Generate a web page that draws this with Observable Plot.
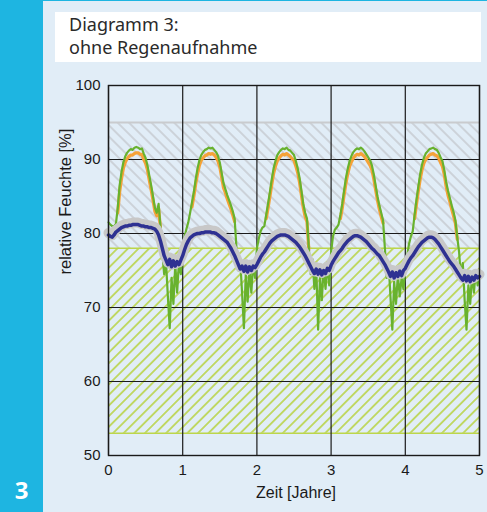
<!DOCTYPE html>
<html>
<head>
<meta charset="utf-8">
<script src="https://cdn.jsdelivr.net/npm/d3@7"></script>
<script src="https://cdn.jsdelivr.net/npm/@observablehq/plot@0.6"></script>
<style>
  body { margin: 0; }
  #wrap { position: relative; width: 487px; height: 512px; background: #e1edf7; overflow: hidden; }
  #strip { position: absolute; left: 0; top: 0; width: 43px; height: 512px; background: #1eb5e1; }
  #topline { position: absolute; left: 0; top: 0; width: 487px; height: 1px; background: #1eb5e1; }
  #num { position: absolute; left: 0; width: 43px; top: 478px; text-align: center; color: #fff;
         font: bold 24px/24px "Open Sans", "Noto Sans", sans-serif; }
  #title { position: absolute; left: 55px; top: 12px; width: 412px; height: 48px; background: #fff;
           padding: 1px 0 1px 14px; color: #2a2a2a; font: 18px/23px "Noto Sans", "Open Sans", sans-serif; }
  #chart { position: absolute; left: 42px; top: 64px; }
</style>
</head>
<body>
<div id="wrap">
  <div id="strip"></div>
  <div id="topline"></div>
  <div id="num">3</div>
  <div id="title">Diagramm 3:<br>ohne Regenaufnahme</div>
  <div id="chart"></div>
</div>
<script>
// ---- data ----
const xTicks = [0, 1, 2, 3, 4, 5];
const yTicks = [50, 60, 70, 80, 90, 100];
const xLabel = "Zeit [Jahre]";
const yLabel = "relative Feuchte [%]";
const greyBand = [78, 95];
const greenBand = [53, 78];
const step = 0.025; // years between samples

const green = [
  81.5,81.2,81.0,81.0,81.3,83.5,86.5,88.3,89.6,90.4,90.9,91.2,91.4,91.3,91.6,91.7,91.6,91.4,91.5,90.8,90.2,89.2,87.8,86.5,85.0,83.5,82.8,84.0,81.0,77.5,74.5,76.2,71.5,67.2,74.0,70.5,75.8,72.0,76.3,74.5,
  77.8,79.5,80.6,81.5,82.8,84.2,85.6,87.3,88.8,89.9,90.6,91.0,91.3,91.4,91.6,91.5,91.6,91.3,91.0,90.5,89.6,88.2,86.8,86.0,85.2,84.5,83.8,83.0,82.0,78.0,75.0,76.5,72.0,67.2,74.5,70.8,75.5,72.0,76.0,74.0,
  78.0,79.3,80.3,80.8,81.0,82.5,84.0,85.6,87.3,88.8,89.8,90.6,91.0,91.3,91.5,91.4,91.6,91.3,91.2,90.9,90.6,89.8,88.8,87.5,85.8,84.0,82.8,82.0,78.0,74.5,76.5,72.5,75.5,67.0,74.0,71.0,75.5,72.5,76.0,73.0,
  77.5,79.6,80.5,80.8,81.2,82.5,84.0,85.8,87.5,88.8,89.8,90.5,91.0,91.3,91.5,91.4,91.6,91.4,91.1,90.7,90.3,89.9,89.2,88.0,86.5,85.0,83.8,82.8,81.8,78.0,74.0,76.0,71.5,67.0,73.5,70.5,74.5,71.5,74.0,72.5,
  75.2,77.0,78.6,79.6,80.3,82.5,84.5,86.3,88.0,89.3,90.2,90.8,91.1,91.4,91.5,91.6,91.4,91.3,90.9,90.3,89.8,88.6,87.0,85.8,84.8,83.8,82.9,81.8,79.5,77.5,74.0,76.0,71.0,67.0,73.0,70.5,74.5,72.0,75.0,73.0,
  75.0
];

// orange series: summer sections only, starting 0.125 years into each year
const orangeStarts = [0.125, 1.125, 2.125, 3.125, 4.125];
const orange1 = [82.8,85.6,87.4,88.8,89.6,90.1,90.4,90.6,90.6,90.8,90.9,90.9,90.7,90.7,90.0,89.5,88.6,87.2,85.9,84.5,83.0,82.4,83.4,80.7];
const orange2 = [83.6,85.0,86.7,88.1,89.2,89.9,90.2,90.5,90.6,90.8,90.7,90.8,90.6,90.3,89.8,89.0,87.6,86.2,85.5,84.7,84.0,83.3,82.5,81.6];
const orange3 = [82.0,83.4,85.0,86.6,88.1,89.1,89.8,90.2,90.5,90.7,90.6,90.8,90.6,90.4,90.1,89.9,89.1,88.2,86.9,85.2,83.5,82.3,81.6,77.8];
const orange4 = [82.0,83.4,85.2,86.8,88.1,89.1,89.7,90.2,90.5,90.7,90.6,90.8,90.6,90.4,90.0,89.6,89.2,88.6,87.4,85.9,84.5,83.3,82.3,81.4];
const orange5 = [82.0,83.9,85.7,87.3,88.6,89.5,90.0,90.3,90.6,90.7,90.8,90.6,90.5,90.2,89.6,89.1,88.0,86.4,85.2,84.3,83.3,82.4,81.4,79.2];

const blue = [
  79.8,79.6,79.5,79.8,80.2,80.4,80.6,80.8,80.9,81.0,81.0,81.1,81.1,81.2,81.2,81.2,81.2,81.1,81.0,81.0,80.9,80.9,80.8,80.8,80.7,80.6,80.3,79.8,79.0,78.0,77.0,76.4,75.8,76.5,75.5,76.3,75.6,76.2,75.8,76.4,
  77.0,77.8,78.5,79.0,79.4,79.6,79.8,79.9,80.0,80.0,80.1,80.1,80.2,80.2,80.2,80.2,80.1,80.1,80.0,79.8,79.6,79.4,79.2,79.0,78.8,78.4,78.0,77.5,77.0,76.4,75.8,75.2,75.6,74.9,75.6,74.8,75.5,75.0,75.6,75.4,
  75.8,76.3,76.8,77.2,77.5,77.9,78.3,78.7,79.0,79.2,79.4,79.6,79.7,79.8,79.8,79.8,79.7,79.6,79.4,79.2,79.0,78.8,78.5,78.2,77.8,77.4,77.0,76.5,76.0,75.5,75.0,74.6,75.2,74.5,75.1,74.4,75.0,74.6,75.3,75.0,
  75.7,76.2,76.6,77.0,77.4,77.7,78.0,78.4,78.7,79.0,79.2,79.4,79.6,79.7,79.7,79.6,79.5,79.3,79.1,78.9,78.6,78.3,78.0,77.8,77.5,77.2,77.0,76.6,76.2,75.8,75.3,74.8,74.2,74.8,74.0,74.7,74.2,74.9,74.3,75.0,
  75.3,75.8,76.3,76.7,77.0,77.4,77.8,78.2,78.5,78.8,79.0,79.2,79.4,79.5,79.5,79.4,79.2,78.9,78.6,78.2,77.8,77.4,77.0,76.6,76.2,75.9,75.6,75.2,74.8,74.4,74.0,73.7,74.3,73.6,74.2,73.5,74.1,73.7,74.3,74.0,
  74.2
];

// ---- tables ----
const greenRows = green.map((v, i) => ({t: i * step, v}));
const blueRows = blue.map((v, i) => ({t: i * step, v}));
const orangeRows = [orange1, orange2, orange3, orange4, orange5].flatMap((arr, k) =>
  arr.map((v, j) => ({t: orangeStarts[k] + j * step, v, year: k})));

const plot = Plot.plot({
  width: 445,
  height: 448,
  marginLeft: 66,
  marginRight: 8,
  marginTop: 21,
  marginBottom: 57,
  style: {background: "transparent", fontFamily: "'Liberation Sans', Arial, sans-serif", fontSize: "15px", color: "#1a1a1a"},
  x: {domain: [0, 5], ticks: xTicks, tickFormat: d3.format("d"), tickSize: 0, tickPadding: 9, label: null},
  y: {domain: [50, 100], ticks: yTicks, tickFormat: d3.format("d"), tickSize: 0, tickPadding: 8, label: null},
  marks: [
    Plot.rect([{y1: greyBand[0], y2: greyBand[1]}], {x1: 0, x2: 5, y1: "y1", y2: "y2", fill: "url(#hatchGrey)"}),
    Plot.ruleY([greyBand[1]], {stroke: "#c9cbce", strokeWidth: 2}),
    Plot.rect([{y1: greenBand[0], y2: greenBand[1]}], {x1: 0, x2: 5, y1: "y1", y2: "y2", fill: "url(#hatchGreen)"}),
    Plot.ruleY(greenBand, {stroke: "#bcd64a", strokeWidth: 1.6}),
    Plot.ruleX(xTicks, {stroke: "#1a1a1a", strokeWidth: 1.2}),
    Plot.ruleY(yTicks, {stroke: "#1a1a1a", strokeWidth: 1.2}),
    Plot.line(orangeRows, {x: "t", y: "v", z: "year", stroke: "#f5a238", strokeWidth: 3.2}),
    Plot.line(greenRows, {x: "t", y: "v", stroke: "#68b22e", strokeWidth: 2.2}),
    Plot.line(blueRows, {x: "t", y: "v", stroke: "#c8c8c8", strokeWidth: 10, dy: -2}),
    Plot.line(blueRows, {x: "t", y: "v", stroke: "#2e3192", strokeWidth: 3.5}),
    Plot.frame({stroke: "#1a1a1a", strokeWidth: 1.4}),
    Plot.text([yLabel], {frameAnchor: "left", dx: -43, dy: 4, rotate: -90, fontSize: 16.5, fill: "#1a1a1a"}),
    Plot.text([xLabel], {frameAnchor: "bottom", lineAnchor: "top", dx: 2, dy: 31, fontSize: 16, fill: "#1a1a1a"})
  ]
});

const defs = d3.select(plot).insert("defs", ":first-child");
const pg = defs.append("pattern").attr("id", "hatchGrey").attr("patternUnits", "userSpaceOnUse")
  .attr("width", 8).attr("height", 8).attr("patternTransform", "rotate(-45)");
pg.append("line").attr("x1", 4).attr("y1", -1).attr("x2", 4).attr("y2", 9)
  .attr("stroke", "#c6cacf").attr("stroke-width", 1.5);
const pgr = defs.append("pattern").attr("id", "hatchGreen").attr("patternUnits", "userSpaceOnUse")
  .attr("width", 7.5).attr("height", 7.5).attr("patternTransform", "rotate(45)");
pgr.append("line").attr("x1", 3.75).attr("y1", -1).attr("x2", 3.75).attr("y2", 9)
  .attr("stroke", "#b6d23c").attr("stroke-width", 1.5);

document.getElementById("chart").appendChild(plot);
</script>
</body>
</html>
